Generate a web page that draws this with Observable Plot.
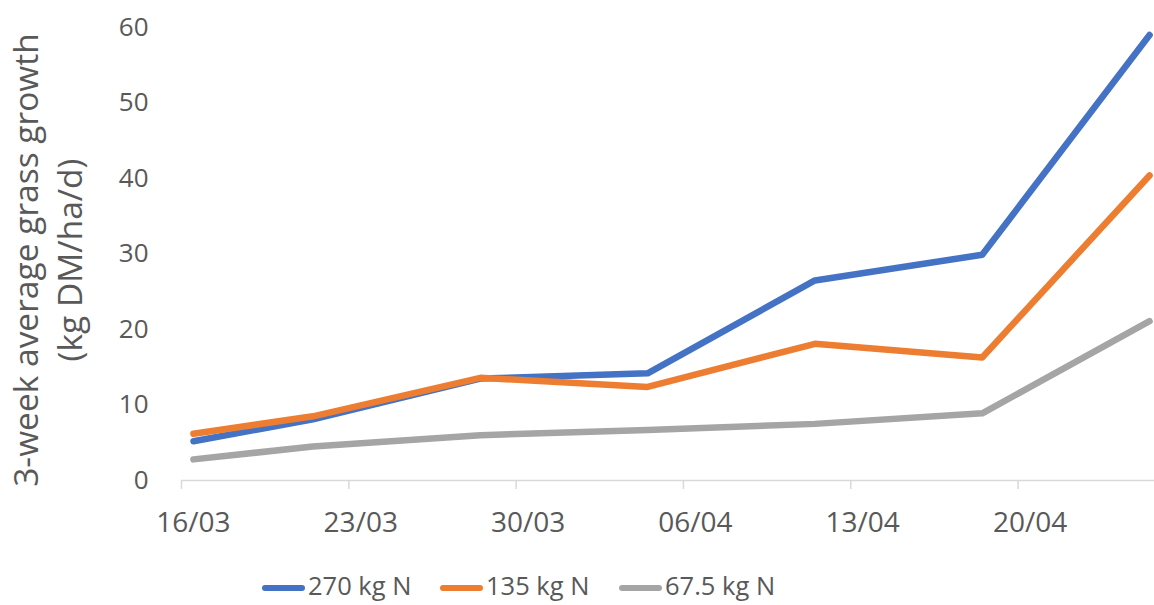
<!DOCTYPE html>
<html>
<head>
<meta charset="utf-8">
<script src="https://cdn.jsdelivr.net/npm/d3@7"></script>
<script src="https://cdn.jsdelivr.net/npm/@observablehq/plot@0.6"></script>
<style>
  html, body { margin: 0; padding: 0; background: #fff; }
  #chart { width: 1154px; }
  .legend { position: relative; height: 40px; font-family: "Open Sans", sans-serif; font-size: 25.5px; color: #595959; }
  .item { position: absolute; top: 0; height: 40px; display: flex; align-items: center; }
  .swatch { width: 43px; height: 6px; border-radius: 3px; margin-right: 3px; margin-top: 6px; }
</style>
</head>
<body>
<div id="chart"></div>
<script>
// Data
const dates = ["2023-03-16", "2023-03-21", "2023-03-28", "2023-04-04", "2023-04-11", "2023-04-18", "2023-04-25"];
const n270 = [5.2, 8.1, 13.5, 14.2, 26.5, 29.9, 59.0];
const n135 = [6.2, 8.5, 13.6, 12.4, 18.1, 16.3, 40.4];
const n675 = [2.8, 4.5, 6.0, 6.7, 7.5, 8.9, 21.1];
const seriesNames = ["270 kg N", "135 kg N", "67.5 kg N"];
const seriesColors = ["#4472C4", "#ED7D31", "#A5A5A5"];
const tickDates = ["2023-03-16", "2023-03-23", "2023-03-30", "2023-04-06", "2023-04-13", "2023-04-20"];
const yTicks = [0, 10, 20, 30, 40, 50, 60];
const xDomain = ["2023-03-16", "2023-04-26"];
const yTitle = ["3-week average grass growth", "(kg DM/ha/d)"];

// Excel date axis: points sit in the middle of each day slot
const HALF_DAY = 12 * 3600 * 1000;
const parse = s => new Date(s + "T00:00:00Z");
const mid = s => new Date(parse(s).getTime() + HALF_DAY);

const allValues = [n270, n135, n675];
const rows = [];
allValues.forEach((vals, si) => {
  vals.forEach((v, i) => rows.push({date: mid(dates[i]), value: v, series: seriesNames[si]}));
});

const W = 1154, H = 565;
const chart = Plot.plot({
  width: W,
  height: H,
  marginLeft: 181,
  marginRight: 0,
  marginTop: 27,
  marginBottom: 85,
  style: {fontFamily: "Open Sans, sans-serif", fontSize: "26px", color: "#595959", background: "#fff", overflow: "visible"},
  x: {type: "utc", domain: xDomain.map(parse), range: [181, 1161]},
  y: {domain: [0, 60], range: [480, 27]},
  color: {domain: seriesNames, range: seriesColors},
  marks: [
    Plot.ruleY([0], {stroke: "#d9d9d9", strokeWidth: 1.5}),
    Plot.axisX({ticks: tickDates.map(parse), tickSize: 9, tickFormat: () => "", stroke: "#d9d9d9", strokeWidth: 1.5, label: null}),
    Plot.axisX({ticks: tickDates.map(mid), tickSize: 0, tickPadding: 32, tickFormat: d3.utcFormat("%d/%m"), label: null, fill: "#595959", fontSize: 28}),
    Plot.axisY({ticks: yTicks, tickSize: 0, tickPadding: 33, label: null, fill: "#595959", fontSize: 26}),
    ...seriesNames.map((name, si) => Plot.line(rows.filter(r => r.series === name), {
      x: "date", y: "value", stroke: seriesColors[si], strokeWidth: 6.5,
      strokeLinecap: "round", strokeLinejoin: "round"
    }))
  ]
});
document.getElementById("chart").appendChild(chart);

// Two-line rotated y-axis title
const svg = d3.select(chart);
const t = svg.append("text")
  .attr("transform", "translate(38,260) rotate(-90)")
  .attr("text-anchor", "middle")
  .attr("fill", "#595959")
  .style("font-family", "Open Sans, sans-serif")
  .style("font-size", "33.5px");
yTitle.forEach((line, i) => {
  t.append("tspan").attr("x", 0).attr("y", i * 44).text(line);
});

// Legend below the chart
const legend = d3.select("body").append("div").attr("class", "legend");
const lefts = [262, 440, 619];
seriesNames.forEach((name, i) => {
  const item = legend.append("div").attr("class", "item").style("left", lefts[i] + "px");
  item.append("div").attr("class", "swatch").style("background", seriesColors[i]);
  item.append("span").text(name);
});
</script>
</body>
</html>
